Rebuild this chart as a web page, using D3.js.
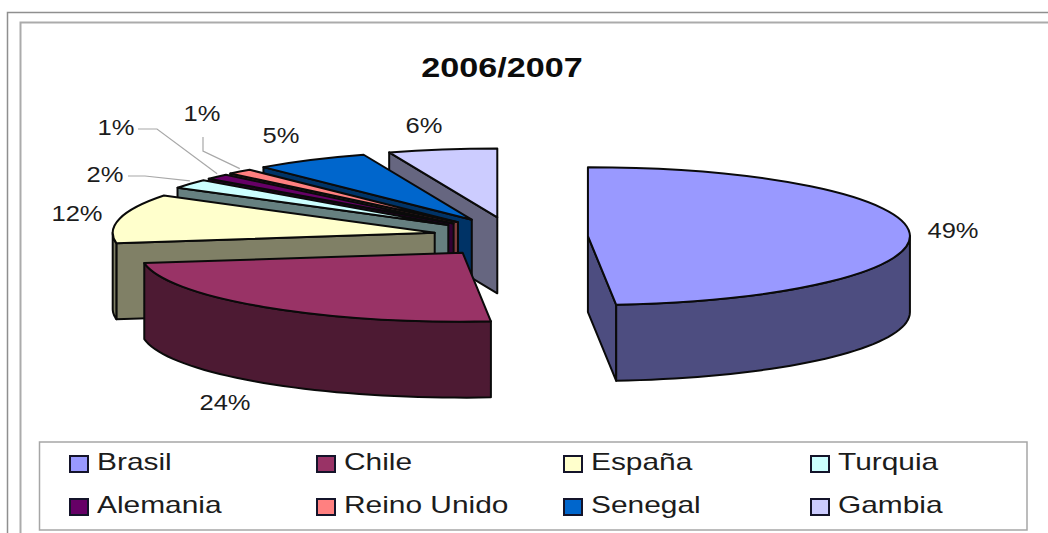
<!DOCTYPE html>
<html><head><meta charset="utf-8">
<script src="https://cdn.jsdelivr.net/npm/d3@7/dist/d3.min.js"></script>
<style>html,body{margin:0;padding:0;background:#fff;overflow:hidden}svg{display:block}
text{font-family:"Liberation Sans",Arial,sans-serif;fill:#1c1c1c}</style>
</head><body><svg id="c" width="1048" height="533"></svg>
<script>
const title = "2006/2007";
const categories = ["Brasil","Chile","España","Turquia","Alemania","Reino Unido","Senegal","Gambia"];
const values = [48.6,24.0,11.5,2.15,1.25,1.3,5.75,5.45];
const valueLabels = ["49%","24%","12%","2%","1%","1%","5%","6%"];
const colors = ["#9999ff","#993366","#ffffcc","#ccffff","#660066","#ff8080","#0066cc","#ccccff"];

const svg = d3.select("#c");
const W = 1048, H = 533;
const RX = 322, tilt = 0.214, depth = 76, explodeX = 77.5, explodeY = 20;
const pieCenter = {x:510.5, y:237};
const shade = c => { const r = d3.rgb(c); return d3.rgb(r.r*.5, r.g*.5, r.b*.5).formatHex(); };

// frame
const frame = svg.append("g").attr("fill","none");
[[7.5,12.5],[20.5,22.5]].forEach(([x,y],i)=>{
  frame.append("path").attr("d",`M${x},${H}V${y}H${W}`)
    .attr("stroke", i? "#ababab":"#8f8f8f").attr("stroke-width", i?2:1.5);
});

const pie = d3.pie().value(d=>d).sort(null).startAngle(0).endAngle(2*Math.PI);
const arcs = pie(values);
const arcGen = d3.arc().innerRadius(0).outerRadius(RX);

function center(a){
  const m = (a.startAngle+a.endAngle)/2;
  return {x: pieCenter.x + explodeX*Math.sin(m), y: pieCenter.y - explodeY*Math.cos(m)};
}
const rim = (c,t) => [c.x + RX*Math.sin(t), c.y - RX*tilt*Math.cos(t)];
const line = d3.line();

function wallRadial(c,t){
  const p = rim(c,t);
  return line([[c.x,c.y],p,[p[0],p[1]+depth],[c.x,c.y+depth]])+"Z";
}
function wallRim(c,t0,t1){
  const ts = d3.range(0,41).map(i=>t0+(t1-t0)*i/40);
  const top = ts.map(t=>rim(c,t));
  const bot = ts.map(t=>{const p=rim(c,t);return [p[0],p[1]+depth];}).reverse();
  return line(top.concat(bot))+"Z";
}

const pies = svg.append("g");
const stroke = "#0a0a0a", sw = 2;
arcs.slice().reverse().forEach(a=>{
  const i = arcs.indexOf(a), c = center(a), col = colors[i], dark = shade(col);
  const g = pies.append("g");
  const wall = d => g.append("path").attr("d",d).attr("fill",dark).attr("stroke",stroke)
     .attr("stroke-width",sw).attr("stroke-linejoin","round");
  if(a.startAngle > Math.PI) wall(wallRadial(c,a.startAngle));
  if(a.endAngle < Math.PI) wall(wallRadial(c,a.endAngle));
  const lo = Math.max(a.startAngle,Math.PI/2), hi = Math.min(a.endAngle,1.5*Math.PI);
  if(hi>lo) wall(wallRim(c,lo,hi));
  g.append("path").attr("d",arcGen(a))
    .attr("transform",`translate(${c.x},${c.y}) scale(1,${tilt})`)
    .attr("fill",col).attr("stroke",stroke).attr("stroke-width",sw)
    .attr("stroke-linejoin","round").attr("vector-effect","non-scaling-stroke");
});

// leader lines: from label elbow to the slice's rim at mid angle
const leaders = [
  {i:3, from:[128,176], elbow:[145,176]},
  {i:4, from:[138,129], elbow:[157,129]},
  {i:5, from:[203,137], elbow:[203,151]}
];
leaders.forEach(l=>{
  const a = arcs[l.i], p = rim(center(a),(a.startAngle+a.endAngle)/2);
  svg.append("path").attr("d",line([l.from,l.elbow,[p[0],p[1]-3]]))
    .attr("fill","none").attr("stroke","#a8a8a8").attr("stroke-width",1.2);
});

function stext(x,y,s,size,stretch,weight,anchor){
  return svg.append("text").attr("transform",`translate(${x},${y}) scale(${stretch},1)`)
    .attr("text-anchor",anchor||"middle").attr("font-size",size).attr("font-weight",weight||400).text(s);
}
stext(502,77,title,28,1.22,700).style("fill","#0c0c0c");

const labelPos = [[953,238],[225,410],[77,221],[105,182],[116,135],[202,121],[281,143],[424,133]];
valueLabels.forEach((s,i)=>stext(labelPos[i][0],labelPos[i][1],s,22,1.16));

// legend
svg.append("rect").attr("x",39.5).attr("y",442).attr("width",987.5).attr("height",88)
  .attr("fill","#fff").attr("stroke","#a6a6a6").attr("stroke-width",1.5);
const lx = d3.scalePoint().domain(d3.range(4)).range([70,811]);
const ly = d3.scalePoint().domain(d3.range(2)).range([456,499]);
categories.forEach((s,i)=>{
  const col = i%4, row = Math.floor(i/4);
  svg.append("rect").attr("x",lx(col)).attr("y",ly(row)).attr("width",18).attr("height",16)
    .attr("fill",colors[i]).attr("stroke","#14142a").attr("stroke-width",2);
  stext(lx(col)+27,ly(row)+14,s,23,1.3,400,"start");
});
</script></body></html>
